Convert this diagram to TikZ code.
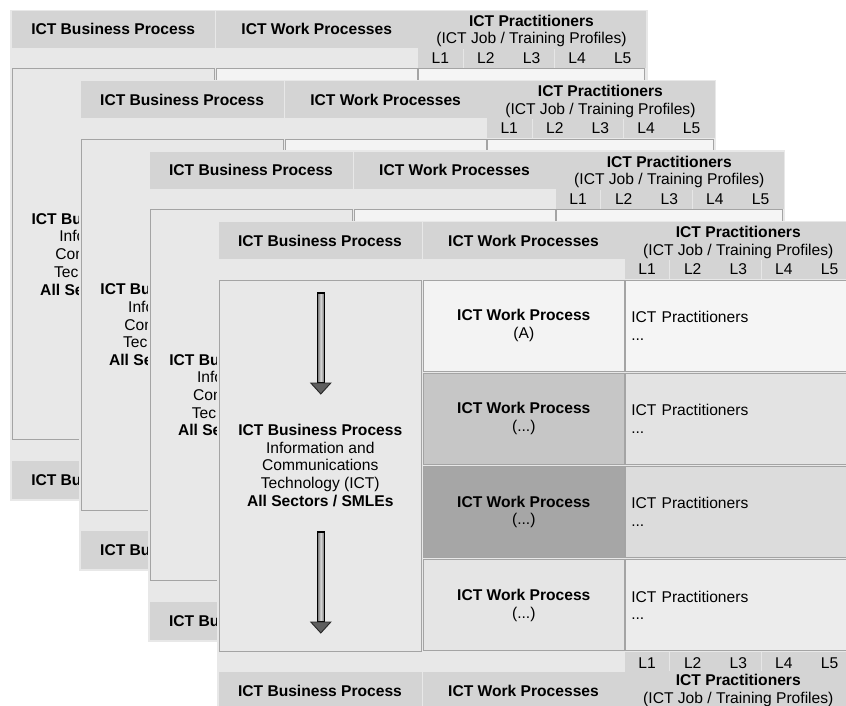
\documentclass[tikz,border=0pt]{standalone}
\usepackage{fontspec}
\setmainfont{Liberation Sans}

\definecolor{sheetbg}{HTML}{E8E8E8}
\definecolor{hdrgray}{HTML}{D4D4D4}
\definecolor{celledge}{HTML}{A4A4A4}
\definecolor{ldivider}{HTML}{E6E6E6}
\definecolor{wone}{HTML}{F3F3F3}
\definecolor{wtwo}{HTML}{C6C6C6}
\definecolor{wthree}{HTML}{A6A6A6}
\definecolor{wfour}{HTML}{E5E5E5}
\definecolor{pone}{HTML}{F5F5F5}
\definecolor{ptwo}{HTML}{E3E3E3}
\definecolor{pthree}{HTML}{DCDCDC}
\definecolor{pfour}{HTML}{ECECEC}
\definecolor{shaftedge}{HTML}{6E6E6E}
\definecolor{shaftmid}{HTML}{D8D8D8}
\definecolor{headgray}{HTML}{5E5E5E}

\newcommand{\basefont}{\fontsize{15.6pt}{17.7pt}\selectfont}
% content switches: the stacked sheets behind only need what peeks out
\newcommand{\showpart}[1]{#1}
\newcommand{\hidepart}[1]{}

\tikzset{
  hdrcell/.style={fill=hdrgray, inner sep=0pt, anchor=north west,
    font=\basefont\bfseries},
  plaintext/.style={inner sep=0pt, font=\basefont, align=center},
  levellabel/.style={inner sep=0pt, font=\basefont, anchor=base},
  bizbox/.style={draw=celledge, line width=1pt, fill=sheetbg, anchor=north west,
    minimum width=202pt, minimum height=371pt, inner sep=0pt,
    font=\basefont, align=center},
  workcell/.style={draw=celledge, line width=1pt, anchor=north west,
    minimum width=201pt, minimum height=91pt, inner sep=0pt,
    font=\basefont, align=center},
  praccell/.style={draw=celledge, line width=1pt, anchor=north west,
    minimum height=91pt, text width=214pt, inner xsep=6pt, inner ysep=0pt,
    font=\basefont, align=left},
  shaftstyle/.style={left color=shaftedge, right color=shaftedge,
    middle color=shaftmid, draw=black, line width=1.1pt},
  headstyle/.style={fill=headgray, draw=black!85, line width=0.9pt,
    line join=miter},
}

% One sheet of the ICT process table
% #1 = name prefix, (#2,#3) = top-left corner, #4 = \showpart or \hidepart
\newcommand{\ictsheet}[4]{%
  \begin{scope}[shift={(#2,#3)}]
    \fill[sheetbg] (-1.5,-1) rectangle (636,490);
    % header row
    \node[hdrcell, minimum width=203pt, minimum height=37pt] (#1-hb) at (0,0) {ICT Business Process};
    \node[hdrcell, minimum width=202pt, minimum height=37pt] (#1-hw) at (204,0) {ICT Work Processes};
    \node[hdrcell, minimum width=228pt, minimum height=57pt] (#1-hp) at (406,0) {};
    \node[plaintext] (#1-hpt) at (520,20.4) {\textbf{ICT Practitioners}\\(ICT Job / Training Profiles)};
    \draw[ldivider, line width=1pt] (451.6,38) -- (451.6,57) (542.8,38) -- (542.8,57);
    \foreach \k in {1,...,5} {
      \node[levellabel] (#1-hl\k) at ({383.2+45.6*\k},52.6) {L\k};
    }
    % business process column
    \node[bizbox] (#1-biz) at (0.5,57.5)
      {\textbf{ICT Business Process}\\Information and\\Communications\\Technology (ICT)\\\textbf{All Sectors / SMLEs}};
    #4{%
      \shadedraw[shaftstyle] (99,71) rectangle (106,161);
      \filldraw[headstyle] (92.5,161) -- (112.5,161) -- (102.5,172) -- cycle;
      \shadedraw[shaftstyle] (99,310) rectangle (106,400);
      \filldraw[headstyle] (92.5,400) -- (112.5,400) -- (102.5,411) -- cycle;
    }
    % work process rows
    \node[workcell, fill=wone]   (#1-w1) at (204.5,57.5)  {#4{\textbf{ICT Work Process}\\(A)}};
    \node[workcell, fill=wtwo]   (#1-w2) at (204.5,150.8) {#4{\textbf{ICT Work Process}\\(...)}};
    \node[workcell, fill=wthree] (#1-w3) at (204.5,244.1) {#4{\textbf{ICT Work Process}\\(...)}};
    \node[workcell, fill=wfour]  (#1-w4) at (204.5,337.4) {#4{\textbf{ICT Work Process}\\(...)}};
    % practitioner rows
    \node[praccell, fill=pone]   (#1-p1) at (406.5,57.5)  {#4{ICT Practitioners\\...}};
    \node[praccell, fill=ptwo]   (#1-p2) at (406.5,150.8) {#4{ICT Practitioners\\...}};
    \node[praccell, fill=pthree] (#1-p3) at (406.5,244.1) {#4{ICT Practitioners\\...}};
    \node[praccell, fill=pfour]  (#1-p4) at (406.5,337.4) {#4{ICT Practitioners\\...}};
    % footer row
    \node[hdrcell, minimum width=203pt, minimum height=38pt] (#1-fb) at (0,450) {ICT Business Process};
    \node[hdrcell, minimum width=202pt, minimum height=38pt] (#1-fw) at (204,450) {#4{ICT Work Processes}};
    \node[hdrcell, minimum width=228pt, minimum height=59pt] (#1-fp) at (406,429.5) {};
    \draw[ldivider, line width=1pt] (451.6,430) -- (451.6,449) (542.8,430) -- (542.8,449);
    #4{%
      \foreach \k in {1,...,5} {
        \node[levellabel] (#1-fl\k) at ({383.2+45.6*\k},446.6) {L\k};
      }
      \node[plaintext] (#1-fpt) at (520,468.5) {\textbf{ICT Practitioners}\\(ICT Job / Training Profiles)};
    }
  \end{scope}}

\begin{document}
\begin{tikzpicture}[x=1pt,y=-1pt]
  \useasboundingbox (0,0) rectangle (846,706);
  \clip (0,0) rectangle (846,706);
  \fill[white] (0,0) rectangle (846,706);
  \ictsheet{sa}{11.5}{10.7}{\hidepart}
  \ictsheet{sb}{80.4}{81.1}{\hidepart}
  \ictsheet{sc}{149.3}{151.5}{\hidepart}
  \ictsheet{sd}{218.3}{222}{\showpart}
\end{tikzpicture}
\end{document}
